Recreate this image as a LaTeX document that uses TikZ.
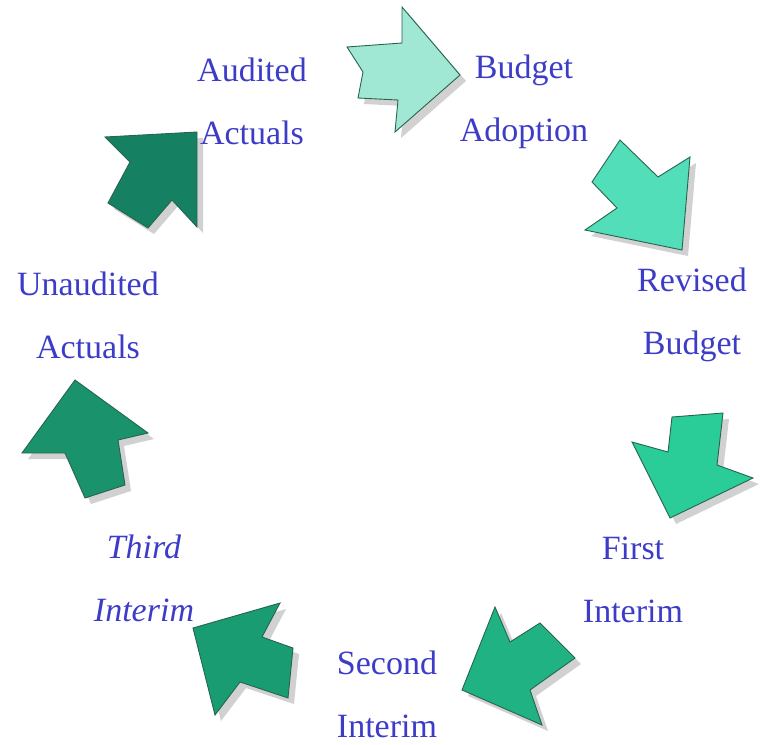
\documentclass[tikz,border=0pt]{standalone}
\usepackage{fontspec}
\setmainfont{Liberation Serif}
\usepackage{xcolor}
\usepackage{tikz}
\usetikzlibrary{shadows}

\definecolor{lbltext}{RGB}{60,60,200}
\definecolor{arredge}{RGB}{40,100,80}
\definecolor{arrA}{RGB}{160,232,212}
\definecolor{arrB}{RGB}{82,222,184}
\definecolor{arrC}{RGB}{42,204,152}
\definecolor{arrD}{RGB}{32,178,130}
\definecolor{arrE}{RGB}{26,156,114}
\definecolor{arrF}{RGB}{26,146,108}
\definecolor{arrG}{RGB}{22,128,98}

\begin{document}
\begin{tikzpicture}[x=1pt, y=-1pt,
    lbl/.style={text=lbltext, align=center, font=\fontsize{34}{63}\selectfont},
    cyc/.style={draw=arredge, line width=0.9pt, line join=miter,
                drop shadow={shadow xshift=6pt, shadow yshift=-6pt, opacity=0.3, fill=black!60}}]
    \useasboundingbox (0,0) rectangle (767,744);

    % stage labels
    \node [lbl] (budget) at (524,102) {Budget\\Adoption};
    \node [lbl] (revised) at (692,315) {Revised\\Budget};
    \node [lbl] (first) at (633,580) {First\\Interim};
    \node [lbl] (second) at (387,694) {Second\\Interim};
    \node [lbl, font=\fontsize{34}{63}\selectfont\itshape] (third) at (144,578) {Third\\Interim};
    \node [lbl] (unaudited) at (88,315) {Unaudited\\Actuals};
    \node [lbl] (audited) at (252,101) {Audited\\Actuals};

    % block arrows round the cycle
    \filldraw [cyc, fill=arrA] (347,47) -- (363,72) -- (358,98) -- (398,100) -- (395,132)
        -- (460,75) -- (402,7) -- (402,43) -- cycle;
    \filldraw [cyc, fill=arrB] (620,140) -- (658,177) -- (690,157) -- (682,250)
        -- (585,230) -- (617,208) -- (592,182) -- cycle;
    \filldraw [cyc, fill=arrC] (672,417) -- (723,413) -- (717,465) -- (753,478)
        -- (670,518) -- (632,442) -- (668,452) -- cycle;
    \filldraw [cyc, fill=arrD] (462,690) -- (495,607) -- (510,642) -- (540,623)
        -- (575,658) -- (530,690) -- (542,725) -- cycle;
    \filldraw [cyc, fill=arrE] (193,628) -- (280,603) -- (262,637) -- (293,648)
        -- (288,698) -- (240,682) -- (215,715) -- cycle;
    \filldraw [cyc, fill=arrF] (75,380) -- (148,433) -- (118,440) -- (125,485)
        -- (85,498) -- (65,453) -- (22,453) -- cycle;
    \filldraw [cyc, fill=arrG] (197,132) -- (105,137) -- (130,162) -- (108,203)
        -- (148,228) -- (172,200) -- (197,227) -- cycle;
\end{tikzpicture}
\end{document}
